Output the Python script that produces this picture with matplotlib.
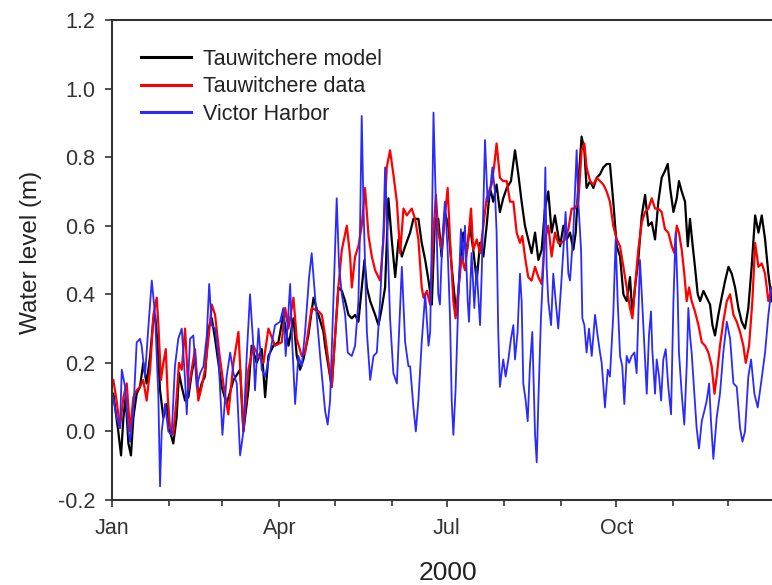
import numpy as np
import pandas as pd
import matplotlib
matplotlib.use("Agg")
import matplotlib.pyplot as plt
import matplotlib.dates as mdates

plt.rcParams['font.family'] = ['Liberation Sans', 'DejaVu Sans']

# day of year 2000 (0 = Jan 1) and water level (m)
model_day = [0.7, 3.4, 4.9, 6.2, 7.4, 8.9, 10.3, 11.6, 13.4, 15.2, 17.0, 18.8, 20.7, 22.5, 23.4, 24.8,
             26.1, 27.9, 29.7, 31.5, 33.3, 35.1, 36.4, 37.9, 39.7, 41.5, 43.3, 45.1, 46.9, 48.7, 50.5,
             52.4, 54.2, 56.0, 59.6, 62.3, 66.0, 69.6, 71.4, 74.1, 75.9, 78.6, 81.4, 83.2, 85.0, 87.7,
             90.4, 93.1, 95.9, 98.6, 100.4, 102.2, 104.0, 106.7, 109.5, 112.2, 114.9, 115.8, 119.4,
             123.0, 124.9, 126.7, 128.5, 130.3, 132.1, 133.9, 135.7, 137.2, 138.5, 140.3, 143.0, 144.8,
             146.6, 148.4, 150.2, 152.0, 153.9, 155.7, 157.5, 159.3, 162.0, 163.8, 166.5, 168.3, 170.2,
             172.0, 173.8, 175.5, 177.3, 179.1, 180.9, 182.7, 184.6, 186.4, 187.3, 189.1, 190.9, 192.7,
             194.5, 196.3, 198.2, 200.0, 201.8, 203.6, 205.4, 207.2, 209.0, 210.8, 212.6, 214.5, 216.8,
             219.0, 220.8, 222.6, 224.4, 226.2, 228.0, 229.9, 231.7, 233.5, 235.3, 237.1, 238.9, 240.7,
             242.2, 243.5, 245.3, 247.1, 248.9, 250.7, 252.0, 253.4, 255.2, 256.7, 257.9, 259.8, 261.6,
             263.4, 265.2, 267.0, 268.8, 270.6, 272.4, 274.3, 276.1, 277.9, 279.7, 281.5, 282.8, 284.2,
             286.0, 287.9, 289.7, 291.5, 293.3, 295.1, 296.9, 298.7, 300.5, 302.0, 303.3, 305.1, 306.9,
             308.1, 309.6, 311.4, 312.9, 314.1, 315.4, 316.8, 318.3, 319.6, 321.4, 323.2, 325.0, 326.3,
             327.7, 329.5, 331.3, 333.2, 335.0, 336.8, 338.6, 340.4, 342.2, 344.0, 345.8, 347.6, 349.5,
             351.3, 353.1, 354.9, 356.7, 358.5]
model_level = [0.11, 0.00, -0.07, 0.04, 0.10, -0.035, -0.07, 0.04, 0.11, 0.13, 0.20, 0.14, 0.22, 0.33, 0.34, 0.25,
               0.12, 0.04, 0.08, 0.00, -0.035, 0.04, 0.17, 0.13, 0.09, 0.10, 0.17, 0.22, 0.10, 0.14, 0.16,
               0.30, 0.33, 0.27, 0.13, 0.08, 0.15, 0.18, 0.00, 0.12, 0.25, 0.20, 0.24, 0.10, 0.22, 0.25,
               0.26, 0.34, 0.25, 0.33, 0.22, 0.18, 0.21, 0.28, 0.39, 0.34, 0.29, 0.25, 0.13,
               0.42, 0.41, 0.38, 0.34, 0.33, 0.34, 0.32, 0.42, 0.50, 0.42, 0.38, 0.34, 0.31,
               0.36, 0.42, 0.68, 0.56, 0.45, 0.56, 0.51, 0.54, 0.58, 0.62, 0.62, 0.55, 0.50,
               0.44, 0.37, 0.62, 0.62, 0.51, 0.64, 0.60, 0.48, 0.38, 0.34, 0.48, 0.58, 0.52,
               0.60, 0.53, 0.44, 0.55, 0.51, 0.60, 0.71, 0.67, 0.72, 0.64, 0.68, 0.71, 0.73,
               0.82, 0.75, 0.67, 0.60, 0.56, 0.52, 0.58, 0.50, 0.53, 0.65, 0.70, 0.58, 0.63,
               0.58, 0.54, 0.60, 0.56, 0.58, 0.53, 0.58, 0.72, 0.86, 0.82, 0.71, 0.73, 0.71,
               0.74, 0.75, 0.77, 0.78, 0.78, 0.67, 0.54, 0.51, 0.40, 0.38, 0.45, 0.34, 0.42,
               0.50, 0.63, 0.69, 0.60, 0.61, 0.56, 0.67, 0.74, 0.76, 0.78, 0.71, 0.64, 0.68,
               0.73, 0.70, 0.67, 0.54, 0.62, 0.55, 0.48, 0.40, 0.38, 0.41, 0.39, 0.37, 0.31,
               0.28, 0.34, 0.39, 0.44, 0.48, 0.46, 0.42, 0.36, 0.32, 0.30, 0.36, 0.48, 0.63,
               0.58, 0.63, 0.56, 0.46, 0.38]

data_day = [0.7, 2.5, 4.3, 6.2, 8.0, 9.8, 11.6, 13.4, 15.2, 17.0, 18.8, 20.7, 22.5, 24.3, 25.2, 26.6,
            27.9, 29.2, 30.3, 31.5, 33.3, 35.1, 36.4, 37.9, 39.7, 41.5, 43.3, 45.1, 46.9, 48.7, 50.5,
            52.4, 54.2, 56.0, 58.5, 61.0, 63.2, 66.0, 68.7, 70.0, 71.4, 74.1, 76.8, 79.6, 82.3, 85.0,
            88.6, 92.2, 94.1, 95.9, 98.6, 100.4, 103.1, 104.9, 108.5, 112.2, 114.0, 115.8, 119.4,
            123.0, 124.9, 127.6, 129.4, 130.3, 132.1, 133.9, 135.7, 137.5, 139.4, 141.2, 143.0, 145.7,
            147.5, 149.3, 151.1, 152.9, 154.8, 156.6, 158.4, 160.2, 162.9, 164.7, 166.5, 168.3, 169.3,
            171.1, 172.9, 174.7, 176.0, 177.3, 179.1, 180.9, 182.4, 183.7, 185.5, 186.7, 188.2, 190.0,
            191.8, 193.6, 195.1, 196.3, 198.2, 200.0, 201.8, 203.6, 206.3, 207.8, 209.0, 210.8, 212.6,
            214.5, 216.3, 218.1, 219.9, 221.7, 223.0, 224.4, 226.2, 228.0, 229.9, 231.7, 233.5, 235.3,
            237.1, 238.9, 240.7, 242.5, 244.4, 246.2, 248.0, 249.8, 251.6, 253.4, 255.2, 256.7, 257.9,
            259.8, 261.6, 263.4, 265.2, 267.0, 268.8, 270.6, 272.4, 274.3, 276.1, 277.9, 279.7, 281.5,
            282.8, 284.2, 286.0, 287.9, 289.7, 291.5, 293.3, 295.1, 296.9, 298.7, 300.5, 302.3, 304.2,
            305.6, 306.9, 308.1, 309.6, 311.0, 312.3, 313.6, 315.0, 316.8, 318.7, 320.5, 322.3, 324.1,
            325.9, 327.4, 328.6, 330.4, 332.2, 334.1, 335.9, 337.7, 339.5, 341.3, 343.1, 344.4, 346.2,
            348.0, 349.5, 351.3, 353.1, 354.9, 356.7, 358.5]
data_level = [0.15, 0.09, 0.01, 0.10, 0.14, 0.00, 0.10, 0.12, 0.13, 0.15, 0.09, 0.18, 0.34, 0.39, 0.31, 0.15,
              0.20, 0.24, 0.10, 0.01, -0.01, 0.10, 0.20, 0.18, 0.30, 0.12, 0.18, 0.24, 0.09, 0.13, 0.18,
              0.27, 0.37, 0.34, 0.22, 0.12, 0.05, 0.20, 0.29, 0.15, 0.00, 0.18, 0.25, 0.22, 0.20, 0.30,
              0.25, 0.26, 0.36, 0.30, 0.39, 0.27, 0.22, 0.23, 0.36, 0.35, 0.34, 0.28, 0.13,
              0.42, 0.53, 0.60, 0.51, 0.42, 0.51, 0.54, 0.60, 0.71, 0.57, 0.51, 0.47, 0.44,
              0.56, 0.77, 0.82, 0.75, 0.67, 0.52, 0.65, 0.63, 0.65, 0.62, 0.56, 0.42, 0.39,
              0.41, 0.37, 0.58, 0.69, 0.58, 0.53, 0.63, 0.71, 0.56, 0.38, 0.33, 0.41, 0.51,
              0.47, 0.56, 0.65, 0.53, 0.56, 0.52, 0.60, 0.68, 0.72, 0.78, 0.84, 0.74, 0.73,
              0.73, 0.67, 0.67, 0.58, 0.55, 0.57, 0.51, 0.45, 0.44, 0.48, 0.45, 0.43, 0.56,
              0.60, 0.51, 0.58, 0.55, 0.55, 0.56, 0.59, 0.65, 0.65, 0.67, 0.82, 0.84, 0.77,
              0.73, 0.72, 0.74, 0.73, 0.72, 0.70, 0.67, 0.60, 0.56, 0.54, 0.48, 0.42, 0.36,
              0.33, 0.42, 0.53, 0.61, 0.64, 0.65, 0.68, 0.65, 0.65, 0.64, 0.59, 0.58, 0.54,
              0.52, 0.60, 0.58, 0.53, 0.46, 0.38, 0.42, 0.38, 0.35, 0.31, 0.26, 0.25, 0.23,
              0.19, 0.11, 0.16, 0.25, 0.32, 0.38, 0.40, 0.34, 0.32, 0.29, 0.25, 0.20, 0.25,
              0.38, 0.55, 0.48, 0.49, 0.46, 0.38, 0.42]

vh_day = [0.7, 2.5, 4.3, 5.3, 7.1, 8.9, 9.8, 11.6, 13.4, 15.2, 16.1, 17.9, 19.7, 21.6, 23.4, 25.2,
          26.1, 27.0, 28.8, 30.6, 32.4, 34.2, 36.0, 37.9, 39.7, 40.6, 42.4, 44.2, 46.0, 47.9, 49.7,
          51.5, 52.8, 54.2, 56.0, 57.8, 60.0, 62.3, 64.2, 66.0, 67.8, 69.6, 71.4, 73.2, 75.0, 76.8,
          77.7, 79.6, 81.4, 83.2, 85.9, 88.6, 91.3, 93.1, 94.4, 96.8, 98.0, 99.5, 101.3, 103.1,
          104.9, 107.1, 108.5, 110.4, 113.1, 115.8, 117.2, 118.5, 120.3, 122.1, 123.4, 124.9, 126.7,
          128.1, 130.3, 132.1, 133.9, 134.8, 135.7, 136.6, 138.5, 140.3, 142.1, 143.9, 145.7, 147.5,
          148.4, 149.3, 151.1, 152.9, 154.8, 156.0, 157.5, 159.3, 161.1, 162.0, 163.8, 165.1, 166.5,
          168.3, 170.2, 172.0, 172.9, 173.8, 174.7, 176.4, 177.3, 178.2, 179.5, 180.9, 182.4, 183.7,
          184.6, 185.5, 186.7, 188.2, 189.6, 190.9, 191.8, 193.3, 194.0, 195.4, 196.9, 198.1, 200.0,
          200.9, 202.7, 204.1, 205.4, 206.7, 208.1, 209.0, 209.9, 210.8, 212.6, 213.9, 215.4, 216.8,
          218.1, 219.0, 220.4, 221.7, 222.6, 223.5, 224.8, 225.9, 227.1, 228.4, 229.9, 230.8, 231.7,
          233.1, 234.4, 235.5, 236.2, 237.1, 238.6, 239.8, 241.1, 242.5, 244.0, 245.3, 246.5, 248.0,
          248.9, 250.7, 252.5, 253.4, 254.9, 255.6, 256.7, 257.9, 259.2, 260.7, 262.5, 263.9, 265.2,
          266.1, 267.9, 269.4, 270.6, 272.4, 273.7, 274.8, 276.1, 277.3, 278.4, 279.7, 281.0, 282.4,
          283.9, 285.1, 286.9, 287.9, 289.3, 290.6, 291.8, 292.9, 293.6, 295.1, 296.0, 297.3, 298.4,
          299.6, 300.9, 302.3, 303.8, 305.1, 306.3, 307.4, 308.1, 309.6, 311.0, 312.3, 313.2, 314.1,
          315.0, 316.5, 317.7, 319.0, 320.5, 321.9, 323.2, 324.5, 325.5, 326.8, 328.6, 330.4, 332.2,
          334.1, 335.9, 337.7, 339.5, 341.3, 342.6, 344.0, 345.8, 347.3, 349.1, 350.9, 352.7, 354.9,
          356.7, 358.5]
vh_level = [0.10, 0.04, 0.01, 0.18, 0.13, 0.00, -0.03, 0.06, 0.26, 0.27, 0.25, 0.16, 0.30, 0.44, 0.34, 0.10,
            -0.16, 0.00, 0.08, 0.00, -0.01, 0.19, 0.27, 0.30, 0.15, 0.05, 0.27, 0.28, 0.13, 0.17, 0.19,
            0.28, 0.43, 0.31, 0.30, 0.22, -0.01, 0.16, 0.23, 0.17, 0.14, -0.07, 0.00, 0.22, 0.40, 0.25,
            0.12, 0.30, 0.18, 0.16, 0.23, 0.31, 0.32, 0.36, 0.22, 0.43, 0.25, 0.08, 0.22, 0.19,
            0.29, 0.45, 0.52, 0.39, 0.22, 0.06, 0.02, 0.09, 0.38, 0.68, 0.48, 0.40, 0.34,
            0.23, 0.22, 0.25, 0.38, 0.60, 0.92, 0.67, 0.29, 0.15, 0.22, 0.23, 0.38, 0.58,
            0.77, 0.63, 0.33, 0.17, 0.14, 0.29, 0.48, 0.26, 0.19, 0.19, 0.07, 0.00, 0.09,
            0.26, 0.40, 0.25, 0.29, 0.57, 0.93, 0.58, 0.40, 0.37, 0.56, 0.67, 0.53, 0.33,
            0.09, -0.01, 0.12, 0.38, 0.59, 0.50, 0.60, 0.38, 0.32, 0.52, 0.36, 0.48, 0.31,
            0.46, 0.85, 0.67, 0.70, 0.77, 0.70, 0.58, 0.29, 0.13, 0.21, 0.16, 0.21, 0.27,
            0.31, 0.21, 0.29, 0.46, 0.38, 0.14, 0.09, 0.03, 0.19, 0.29, -0.01, -0.09, 0.09,
            0.33, 0.48, 0.77, 0.48, 0.38, 0.31, 0.46, 0.38, 0.30, 0.42, 0.53, 0.64, 0.46,
            0.44, 0.58, 0.82, 0.67, 0.53, 0.33, 0.31, 0.23, 0.30, 0.22, 0.34, 0.28, 0.23,
            0.20, 0.07, 0.18, 0.16, 0.34, 0.56, 0.38, 0.22, 0.19, 0.08, 0.22, 0.20, 0.22,
            0.23, 0.17, 0.50, 0.40, 0.25, 0.11, 0.28, 0.35, 0.24, 0.11, 0.21, 0.16, 0.09,
            0.21, 0.24, 0.13, 0.05, 0.38, 0.58, 0.40, 0.23, 0.11, 0.02, 0.19, 0.36, 0.28,
            0.23, 0.11, 0.01, -0.05, 0.03, 0.06, 0.09, 0.14, 0.03, -0.08, 0.04, 0.11, 0.23,
            0.32, 0.27, 0.14, 0.13, 0.01, -0.03, 0.00, 0.16, 0.21, 0.11, 0.07, 0.14, 0.23,
            0.34, 0.42]

labels = ["Tauwitchere model", "Tauwitchere data", "Victor Harbor"]
yticks = [-0.2, 0.0, 0.2, 0.4, 0.6, 0.8, 1.0, 1.2]

start = pd.Timestamp("2000-01-01")
def to_dates(days):
    return start + pd.to_timedelta(np.array(days), unit="D")

fig = plt.figure(figsize=(7.72, 5.85), dpi=100)
# axes runs past the right edge of the picture, as in the original
ax = fig.add_axes([0.1451, 0.1453, 0.870, 0.8205])

ax.plot(to_dates(model_day), model_level, color='black', lw=1.6, label=labels[0])
ax.plot(to_dates(data_day), data_level, color='#ff0000', lw=1.6, label=labels[1])
ax.plot(to_dates(vh_day), vh_level, color='#2a2aff', lw=1.3, label=labels[2])

ax.set_xlim(start, pd.Timestamp("2000-12-31"))
ax.set_ylim(-0.2, 1.2)
ax.set_yticks(yticks)
ax.set_yticklabels(["%.1f" % v for v in yticks])
ax.xaxis.set_major_locator(mdates.MonthLocator(bymonth=[1, 4, 7, 10]))
ax.xaxis.set_major_formatter(mdates.DateFormatter('%b'))
ax.xaxis.set_minor_locator(mdates.MonthLocator())

ax.tick_params(axis='both', which='major', direction='out', length=5, width=1.2,
               labelsize=15.5, colors='#333333')
ax.tick_params(axis='x', which='major', pad=8)
ax.tick_params(axis='y', which='major', pad=7)
ax.tick_params(axis='x', which='minor', direction='out', length=4, width=1.2, colors='#333333')
for s in ax.spines.values():
    s.set_color('#333333')
    s.set_linewidth(1.5)

fig.text(31 / 772, 0.569, 'Water level (m)', rotation=90, ha='center', va='center',
         fontsize=17.5, color='#222222')
fig.text(0.58, 5 / 585, '2000', ha='center', va='baseline', fontsize=19, color='#222222')

leg = ax.legend(loc='upper left', frameon=False, fontsize=15.5, handlelength=2.35,
                handletextpad=0.55, labelspacing=0.3, borderpad=0, borderaxespad=0,
                bbox_to_anchor=(0.043, 0.94))
for t in leg.get_texts():
    t.set_color('#222222')
for h in leg.get_lines():
    h.set_linewidth(2.2)

fig.savefig('out.png', dpi=100)
